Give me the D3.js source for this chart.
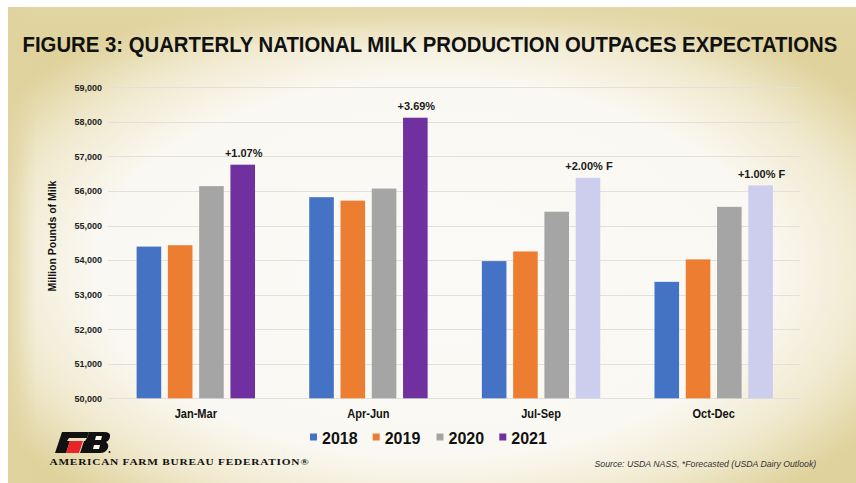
<!DOCTYPE html>
<html>
<head>
<meta charset="utf-8">
<script src="https://cdn.jsdelivr.net/npm/d3@7"></script>
<style>
  html, body { margin: 0; padding: 0; background: #ffffff; }
  svg { display: block; }
</style>
</head>
<body>
<svg id="chart" width="856" height="483"></svg>
<script>
// ---------- DATA ----------
const quarters = ["Jan-Mar", "Apr-Jun", "Jul-Sep", "Oct-Dec"];
const years = ["2018", "2019", "2020", "2021"];
const v2018 = [54390, 55820, 53970, 53370];
const v2019 = [54430, 55720, 54250, 54020];
const v2020 = [56140, 56070, 55400, 55540];
const v2021 = [56760, 58120, 56380, 56160];
const forecast2021 = [false, false, true, true];
const changeLabels = ["+1.07%", "+3.69%", "+2.00% F", "+1.00% F"];
const yTicks = [50000, 51000, 52000, 53000, 54000, 55000, 56000, 57000, 58000, 59000];

const titleText = "FIGURE 3: QUARTERLY NATIONAL MILK PRODUCTION OUTPACES EXPECTATIONS";
const yTitle = "Million Pounds of Milk";
const sourceText = "Source: USDA NASS, *Forecasted (USDA Dairy Outlook)";
const orgText = "AMERICAN FARM BUREAU FEDERATION\u00AE";

const colors = { "2018": "#4472c4", "2019": "#ed7d31", "2020": "#a5a5a5", "2021": "#7030a0" };
const forecastColor = "#cdcdee";

const seriesValues = { "2018": v2018, "2019": v2019, "2020": v2020, "2021": v2021 };
const rows = quarters.map((q, i) => ({
  quarter: q,
  bars: years.map(y => ({ year: y, value: seriesValues[y][i], forecast: y === "2021" && forecast2021[i] })),
  label: changeLabels[i],
  top: v2021[i]
}));

// ---------- SVG ----------
const svg = d3.select("#chart");
const W = 856, H = 483;

const defs = svg.append("defs");
const rg = defs.append("radialGradient").attr("id", "paper")
  .attr("cx", "50%").attr("cy", "55%").attr("r", "62%")
  .attr("fx", "50%").attr("fy", "55%");
rg.append("stop").attr("offset", "0%").attr("stop-color", "#fbfaf7");
rg.append("stop").attr("offset", "64%").attr("stop-color", "#faf8f2");
rg.append("stop").attr("offset", "82%").attr("stop-color", "#f1ead0");
rg.append("stop").attr("offset", "100%").attr("stop-color", "#dfd29c");

const lg = defs.append("linearGradient").attr("id", "topband")
  .attr("x1", "0").attr("y1", "0").attr("x2", "0").attr("y2", "1");
lg.append("stop").attr("offset", "0%").attr("stop-color", "#e2d6a4").attr("stop-opacity", 0.9);
lg.append("stop").attr("offset", "100%").attr("stop-color", "#e2d6a4").attr("stop-opacity", 0);

const lgl = defs.append("linearGradient").attr("id", "leftband")
  .attr("x1", "0").attr("y1", "0").attr("x2", "1").attr("y2", "0");
lgl.append("stop").attr("offset", "0%").attr("stop-color", "#e0d39f").attr("stop-opacity", 0.85);
lgl.append("stop").attr("offset", "100%").attr("stop-color", "#e0d39f").attr("stop-opacity", 0);

// background
svg.append("rect").attr("x", 0).attr("y", 0).attr("width", W).attr("height", H).attr("fill", "#ffffff");
svg.append("rect").attr("x", 8).attr("y", 7).attr("width", W - 8).attr("height", H - 7).attr("fill", "url(#paper)");
svg.append("rect").attr("x", 8).attr("y", 7).attr("width", W - 8).attr("height", 40).attr("fill", "url(#topband)");
svg.append("rect").attr("x", 8).attr("y", 7).attr("width", 28).attr("height", H - 7).attr("fill", "url(#leftband)");

// ---------- SCALES ----------
const x0 = d3.scaleBand().domain(quarters).range([109.5, 800]).paddingInner(0).paddingOuter(0);
const x1 = d3.scaleBand().domain(years).range([0, x0.bandwidth()]).paddingInner(0.214).paddingOuter(0.867);
const y = d3.scaleLinear().domain([50000, 59000]).range([398.3, 87.3]);

// gridlines
svg.append("g").selectAll("line").data(yTicks).join("line")
  .attr("x1", 108).attr("x2", 800)
  .attr("y1", d => Math.round(y(d)) + 0.5).attr("y2", d => Math.round(y(d)) + 0.5)
  .attr("stroke", "#e2e0da").attr("stroke-width", 1);

// y axis labels
const yAxis = d3.axisLeft(y).tickValues(yTicks).tickSize(0).tickPadding(0).tickFormat(d3.format(","));
const yg = svg.append("g").attr("transform", "translate(102,0)").call(yAxis);
yg.select(".domain").remove();
yg.selectAll("text")
  .attr("font-family", "'Liberation Sans', Arial, sans-serif")
  .attr("font-weight", "bold").attr("font-size", 9).attr("fill", "#222");

// y title
svg.append("text")
  .attr("transform", "translate(56,236) rotate(-90)")
  .attr("text-anchor", "middle")
  .attr("font-family", "'Liberation Sans', Arial, sans-serif")
  .attr("font-weight", "bold").attr("font-size", 10.5).attr("fill", "#111")
  .text(yTitle);

// bars
const groups = svg.append("g").selectAll("g").data(rows).join("g")
  .attr("transform", d => `translate(${x0(d.quarter)},0)`);

groups.selectAll("rect").data(d => d.bars).join("rect")
  .attr("x", d => x1(d.year))
  .attr("width", x1.bandwidth())
  .attr("y", d => y(d.value))
  .attr("height", d => y(50000) - y(d.value))
  .attr("fill", d => d.forecast ? forecastColor : colors[d.year]);

// change labels
groups.append("text")
  .attr("x", x1("2021") + x1.bandwidth() / 2 + 1)
  .attr("y", d => y(d.top) - 7.5)
  .attr("text-anchor", "middle")
  .attr("font-family", "'Liberation Sans', Arial, sans-serif")
  .attr("font-weight", "bold").attr("font-size", 11).attr("fill", "#1a1a1a")
  .text(d => d.label);

// x axis labels (condensed look via horizontal scale)
xg = svg.append("g");
xg.selectAll("text").data(quarters).join("text")
  .attr("transform", d => `translate(${x0(d) + x0.bandwidth() / 2},418) scale(0.85,1)`)
  .attr("text-anchor", "middle")
  .attr("font-family", "'Liberation Sans', Arial, sans-serif")
  .attr("font-weight", "bold").attr("font-size", 13).attr("fill", "#111")
  .text(d => d);

// title: condensed by horizontal scale to fit the measured width
const title = svg.append("text")
  .attr("x", 0).attr("y", 0)
  .attr("font-family", "'Liberation Sans', Arial, sans-serif")
  .attr("font-weight", "bold").attr("font-size", 21).attr("fill", "#111")
  .text(titleText);
const natural = title.node().getComputedTextLength();
const sx = 815 / natural;
title.attr("transform", `translate(22.5,51.5) scale(${sx},1.05)`);

// legend
const legendX = [310, 372.7, 436.5, 499.3];
const leg = svg.append("g").selectAll("g").data(years).join("g")
  .attr("transform", (d, i) => `translate(${legendX[i]},0)`);
leg.append("rect").attr("x", 0).attr("y", 433.5).attr("width", 7).attr("height", 7)
  .attr("fill", d => colors[d]);
leg.append("text").attr("x", 12).attr("y", 443.5)
  .attr("font-family", "'Liberation Sans', Arial, sans-serif")
  .attr("font-weight", "bold").attr("font-size", 16).attr("fill", "#111")
  .text(d => d);

// logo
const logo = svg.append("g");
logo.append("path").attr("d", "M62,432 L89,432 L87,438 L69,438 L67,441 L70,441 L66,453 L55,453 Z").attr("fill", "#111");
logo.append("path").attr("d", "M70,441 L83,441 L79,453 L66,453 Z").attr("fill", "#e8232a");
logo.append("path").attr("d", "M85,441 L87,438 L89,432 L104,432 Q111,432 110,437 Q109,441 106,442 Q109,444 108,448 Q106,453 100,453 L80,453 L84,441 Z").attr("fill", "#111");
logo.append("path").attr("d", "M96,436 L102,436 L101,440 L95,440 Z M94,445 L100,445 L99,449 L93,449 Z").attr("fill", "#faf6e8");
logo.append("circle").attr("cx", 109.5).attr("cy", 452).attr("r", 1).attr("fill", "#111");

const org = svg.append("text")
  .attr("x", 0).attr("y", 0)
  .attr("font-family", "'Liberation Serif', 'Times New Roman', serif")
  .attr("font-weight", "bold").attr("font-size", 9).attr("letter-spacing", 0.6).attr("fill", "#111")
  .text(orgText);
const orgW = org.node().getComputedTextLength();
org.attr("transform", `translate(49.5,465) scale(${260 / orgW},1)`);

// source
const src = svg.append("text")
  .attr("x", 0).attr("y", 0)
  .attr("font-family", "'Liberation Sans', Arial, sans-serif")
  .attr("font-style", "italic").attr("font-size", 9.5).attr("fill", "#333")
  .text(sourceText);
const srcW = src.node().getComputedTextLength();
src.attr("transform", `translate(594.5,467) scale(${222 / srcW},1)`);
</script>
</body>
</html>
